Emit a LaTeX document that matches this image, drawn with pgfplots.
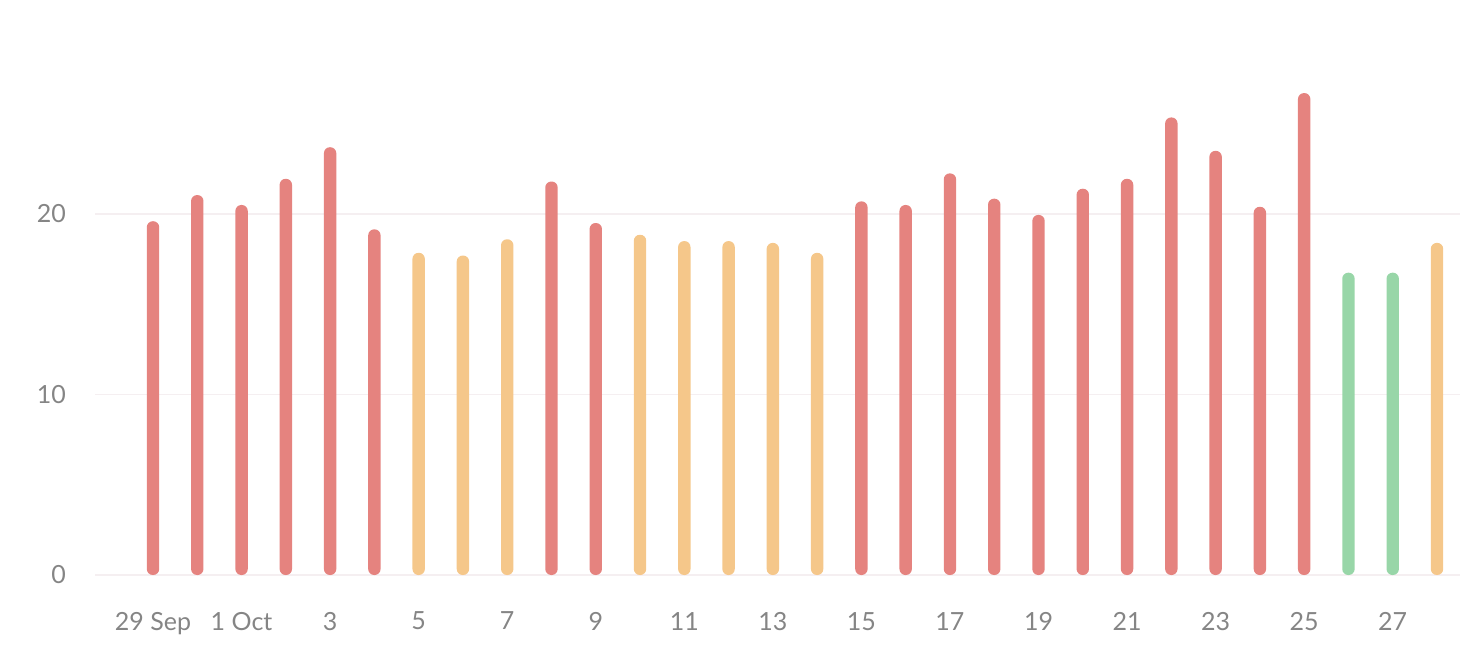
\documentclass[border=0pt]{standalone}
\usepackage{pgfplots}
\pgfplotsset{compat=1.18}
\usepackage{fontspec}
\setmainfont{Lato}
\definecolor{cred}{HTML}{E5837F}
\definecolor{cyel}{HTML}{F5C78A}
\definecolor{cgrn}{HTML}{98D6A8}
\definecolor{ctxt}{HTML}{858585}
\definecolor{cgrid}{HTML}{F5EFF1}
\begin{document}
\begin{tikzpicture}
\path[use as bounding box] (-47.5pt,-42.5pt) rectangle (690.5pt,287.5pt);
\begin{axis}[at={(0,0)}, anchor=south west, scale only axis,
  width=682.5pt, height=270.75pt,
  xmin=-1.31, xmax=29.52, ymin=0, ymax=30,
  axis line style={draw=none}, major tick length=0pt,
  ymajorgrids, grid style={cgrid, line width=0.8pt},
  ytick={0,10,20},
  xtick={0,2,...,28},
  xticklabels={29 Sep,1 Oct,3,5,7,9,11,13,15,17,19,21,23,25,27},
  tick label style={font=\fontsize{12.5}{14}\selectfont, text=ctxt},
  /pgf/number format/assume math mode=true,
  yticklabel style={anchor=east, xshift=-11pt},
  xticklabel style={anchor=north, yshift=-15pt},
  clip=false]
\addplot[ybar, bar width=6.2pt, bar shift=0pt, fill=cred, draw=none, rounded corners=3pt] coordinates {
(0,19.6) (1,21.05) (2,20.5) (3,21.95) (4,23.7) (5,19.15) (9,21.8) (10,19.5)
(16,20.7) (17,20.5) (18,22.25) (19,20.85) (20,19.95) (21,21.4) (22,21.95) (23,25.35)
(24,23.5) (25,20.4) (26,26.7)};
\addplot[ybar, bar width=6.2pt, bar shift=0pt, fill=cyel, draw=none, rounded corners=3pt] coordinates {
(6,17.85) (7,17.7) (8,18.6) (11,18.85) (12,18.5) (13,18.5) (14,18.4) (15,17.85) (29,18.4)};
\addplot[ybar, bar width=6.2pt, bar shift=0pt, fill=cgrn, draw=none, rounded corners=3pt] coordinates {
(27,16.75) (28,16.75)};
\end{axis}
\end{tikzpicture}
\end{document}
